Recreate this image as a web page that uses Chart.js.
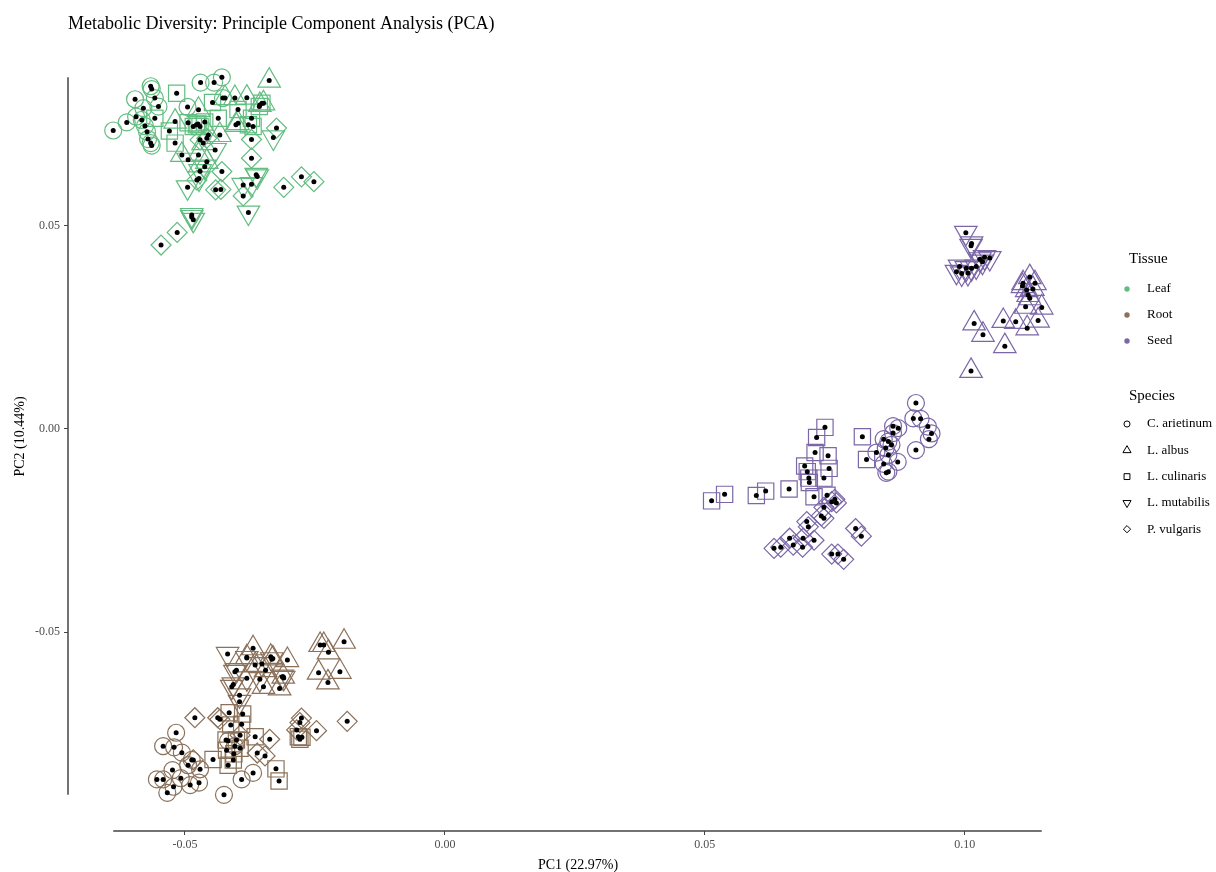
<!DOCTYPE html>
<html lang="en">
<head>
    <meta charset="UTF-8">
    <title>Metabolic Diversity PCA</title>
    <script src="https://cdn.jsdelivr.net/npm/chart.js"></script>
    <style>
        body { margin: 0; background: #fff; }
        canvas { display: block; }
    </style>
</head>
<body>
    <canvas id="pca" width="1216" height="872"></canvas>
</body>
</html>
<script>
    // tick values on both axes
    const xTicks = [-0.05, 0, 0.05, 0.10];
    const yTicks = [-0.05, 0, 0.05];

    const tissues = ['Leaf', 'Root', 'Seed'];
    const tissueColors = ['#62bd80', '#8b715a', '#7b67a8'];
    const species = ['C. arietinum', 'L. albus', 'L. culinaris', 'L. mutabilis', 'P. vulgaris'];

    // PC1, PC2 scores, one array per tissue x species
    const leafArietinum = [[-0.0638,0.0735],[-0.0612,0.0755],[-0.0594,0.0769],[-0.0596,0.0812],[-0.0566,0.0844],[-0.0564,0.0837],[-0.0580,0.0790],[-0.0558,0.0815],[-0.0551,0.0794],[-0.0583,0.0761],[-0.0495,0.0793],[-0.0566,0.0704],[-0.0564,0.0698],[-0.0470,0.0853],[-0.0444,0.0853],[-0.0429,0.0866],[-0.0427,0.0815],[-0.0577,0.0746],[-0.0573,0.0732],[-0.0571,0.0714]];
    const leafAlbus = [[-0.0338,0.0858],[-0.0404,0.0815],[-0.0381,0.0816],[-0.0423,0.0815],[-0.0474,0.0786],[-0.0402,0.0749],[-0.0398,0.0753],[-0.0356,0.0798],[-0.0349,0.0802],[-0.0455,0.0724],[-0.0433,0.0724],[-0.0465,0.0704],[-0.0506,0.0675],[-0.0474,0.0675],[-0.0458,0.0658],[-0.0519,0.0757]];
    const leafCulinaris = [[-0.0516,0.0827],[-0.0558,0.0765],[-0.0530,0.0734],[-0.0519,0.0704],[-0.0484,0.0745],[-0.0478,0.0749],[-0.0471,0.0745],[-0.0475,0.0751],[-0.0447,0.0804],[-0.0436,0.0765],[-0.0398,0.0787],[-0.0372,0.0765],[-0.0352,0.0802],[-0.0378,0.0749],[-0.0369,0.0745],[-0.0357,0.0794],[-0.0494,0.0754],[-0.0462,0.0756]];
    const leafMutabilis = [[-0.0495,0.0595],[-0.0487,0.0527],[-0.0484,0.0515],[-0.0487,0.0522],[-0.0378,0.0533],[-0.0372,0.0603],[-0.0363,0.0626],[-0.0361,0.0622],[-0.0330,0.0718],[-0.0462,0.0646],[-0.0473,0.0617],[-0.0471,0.0635],[-0.0494,0.0663],[-0.0442,0.0687],[-0.0388,0.0601]];
    const leafVulgaris = [[-0.0546,0.0453],[-0.0515,0.0484],[-0.0429,0.0634],[-0.0441,0.0589],[-0.0431,0.0590],[-0.0372,0.0667],[-0.0372,0.0713],[-0.0388,0.0574],[-0.0310,0.0595],[-0.0276,0.0621],[-0.0252,0.0609],[-0.0324,0.0741],[-0.0471,0.0712],[-0.0458,0.0716],[-0.0477,0.0613]];

    const rootArietinum = [[-0.0517,-0.0748],[-0.0542,-0.0781],[-0.0521,-0.0784],[-0.0506,-0.0797],[-0.0487,-0.0815],[-0.0494,-0.0828],[-0.0471,-0.0838],[-0.0524,-0.0840],[-0.0554,-0.0863],[-0.0542,-0.0863],[-0.0508,-0.0860],[-0.0490,-0.0877],[-0.0473,-0.0871],[-0.0522,-0.0881],[-0.0534,-0.0896],[-0.0425,-0.0901],[-0.0391,-0.0863],[-0.0369,-0.0847],[-0.0417,-0.0768],[-0.0404,-0.0781]];
    const rootAlbus = [[-0.0369,-0.0540],[-0.0335,-0.0561],[-0.0331,-0.0565],[-0.0303,-0.0569],[-0.0345,-0.0594],[-0.0311,-0.0610],[-0.0318,-0.0639],[-0.0349,-0.0635],[-0.0365,-0.0581],[-0.0240,-0.0532],[-0.0233,-0.0532],[-0.0224,-0.0550],[-0.0194,-0.0524],[-0.0243,-0.0600],[-0.0202,-0.0598],[-0.0225,-0.0624],[-0.0381,-0.0562]];
    const rootCulinaris = [[-0.0415,-0.0699],[-0.0389,-0.0702],[-0.0412,-0.0729],[-0.0391,-0.0727],[-0.0421,-0.0766],[-0.0401,-0.0766],[-0.0365,-0.0758],[-0.0446,-0.0814],[-0.0417,-0.0828],[-0.0407,-0.0815],[-0.0394,-0.0786],[-0.0325,-0.0837],[-0.0319,-0.0867],[-0.0282,-0.0758],[-0.0279,-0.0764],[-0.0275,-0.0759],[-0.0420,-0.0791],[-0.0406,-0.0800]];
    const rootMutabilis = [[-0.0418,-0.0554],[-0.0401,-0.0594],[-0.0404,-0.0598],[-0.0407,-0.0629],[-0.0410,-0.0635],[-0.0395,-0.0656],[-0.0395,-0.0672],[-0.0381,-0.0614],[-0.0356,-0.0616],[-0.0313,-0.0610],[-0.0310,-0.0613],[-0.0381,-0.0564],[-0.0333,-0.0567],[-0.0352,-0.0579]];
    const rootVulgaris = [[-0.0481,-0.0711],[-0.0437,-0.0711],[-0.0433,-0.0715],[-0.0337,-0.0764],[-0.0361,-0.0798],[-0.0346,-0.0805],[-0.0276,-0.0712],[-0.0279,-0.0723],[-0.0247,-0.0743],[-0.0188,-0.0720],[-0.0484,-0.0815],[-0.0285,-0.0741],[-0.0394,-0.0754]];

    const seedArietinum = [[0.0906,0.0064],[0.0901,0.0026],[0.0915,0.0025],[0.0929,0.0006],[0.0936,-0.0011],[0.0931,-0.0025],[0.0906,-0.0052],[0.0862,0.0007],[0.0872,0.0002],[0.0844,-0.0025],[0.0853,-0.0031],[0.0859,-0.0039],[0.0830,-0.0058],[0.0853,-0.0064],[0.0871,-0.0081],[0.0844,-0.0086],[0.0849,-0.0108],[0.0853,-0.0105],[0.0848,-0.0047],[0.0862,-0.0010]];
    const seedAlbus = [[0.1125,0.0374],[0.1112,0.0359],[0.1135,0.0359],[0.1111,0.0352],[0.1122,0.0330],[0.1125,0.0322],[0.1117,0.0301],[0.1148,0.0299],[0.1141,0.0267],[0.1120,0.0248],[0.1098,0.0264],[0.1074,0.0266],[0.1018,0.0260],[0.1035,0.0232],[0.1077,0.0204],[0.1012,0.0143],[0.1119,0.0342],[0.1131,0.0345]];
    const seedCulinaris = [[0.0513,-0.0177],[0.0538,-0.0161],[0.0599,-0.0164],[0.0617,-0.0153],[0.0662,-0.0148],[0.0731,0.0004],[0.0715,-0.0021],[0.0712,-0.0058],[0.0737,-0.0066],[0.0739,-0.0097],[0.0692,-0.0091],[0.0697,-0.0105],[0.0701,-0.0132],[0.0729,-0.0121],[0.0710,-0.0167],[0.0735,-0.0163],[0.0803,-0.0019],[0.0811,-0.0075],[0.0700,-0.0121]];
    const seedMutabilis = [[0.1002,0.0483],[0.1013,0.0457],[0.1012,0.0451],[0.1038,0.0423],[0.1029,0.0418],[0.1034,0.0412],[0.0984,0.0387],[0.0994,0.0383],[0.1003,0.0396],[0.1013,0.0396],[0.1022,0.0400],[0.0990,0.0400],[0.1006,0.0384],[0.1048,0.0421]];
    const seedVulgaris = [[0.0750,-0.0173],[0.0753,-0.0182],[0.0744,-0.0179],[0.0729,-0.0193],[0.0729,-0.0220],[0.0724,-0.0214],[0.0696,-0.0228],[0.0699,-0.0241],[0.0663,-0.0269],[0.0670,-0.0286],[0.0646,-0.0291],[0.0633,-0.0294],[0.0689,-0.0269],[0.0688,-0.0291],[0.0710,-0.0274],[0.0790,-0.0245],[0.0801,-0.0264],[0.0744,-0.0308],[0.0756,-0.0308],[0.0767,-0.0321]];

    const groups = [
        [leafArietinum, leafAlbus, leafCulinaris, leafMutabilis, leafVulgaris],
        [rootArietinum, rootAlbus, rootCulinaris, rootMutabilis, rootVulgaris],
        [seedArietinum, seedAlbus, seedCulinaris, seedMutabilis, seedVulgaris]
    ];

    // marker per species: circle, triangle, square, down triangle, diamond
    const shapes = [
        { pointStyle: 'circle', radius: 8.5, rotation: 0 },
        { pointStyle: 'triangle', radius: 13, rotation: 0 },
        { pointStyle: 'rect', radius: 11.5, rotation: 0 },
        { pointStyle: 'triangle', radius: 13, rotation: 180 },
        { pointStyle: 'rectRot', radius: 10, rotation: 0 }
    ];

    const serif = "'Liberation Serif', 'DejaVu Serif', serif";

    let datasets = [];
    let allPoints = [];
    groups.forEach(function (row, t) {
        row.forEach(function (pts, s) {
            const data = pts.map(p => ({ x: p[0], y: p[1] }));
            allPoints = allPoints.concat(data);
            datasets.push({
                label: tissues[t] + ' ' + species[s],
                data: data,
                pointStyle: shapes[s].pointStyle,
                pointRadius: shapes[s].radius,
                pointRotation: shapes[s].rotation,
                pointBorderWidth: 1.2,
                pointBorderColor: tissueColors[t],
                pointBackgroundColor: 'rgba(0,0,0,0)',
                order: 1
            });
        });
    });
    // black centre dots on top
    datasets.push({
        label: 'centres',
        data: allPoints,
        pointStyle: 'circle',
        pointRadius: 2.5,
        pointBorderWidth: 0,
        pointBackgroundColor: '#000',
        order: 0
    });

    // range frame: axis lines only span the data
    const rangeFrame = {
        id: 'rangeFrame',
        beforeDatasetsDraw(chart) {
            const ctx = chart.ctx;
            const xs = allPoints.map(p => p.x);
            const ys = allPoints.map(p => p.y);
            const sx = chart.scales.x, sy = chart.scales.y;
            const area = chart.chartArea;
            ctx.save();
            ctx.strokeStyle = '#444';
            ctx.lineWidth = 1.5;
            ctx.beginPath();
            ctx.moveTo(sx.getPixelForValue(Math.min(...xs)), area.bottom);
            ctx.lineTo(sx.getPixelForValue(Math.max(...xs)), area.bottom);
            ctx.moveTo(area.left, sy.getPixelForValue(Math.max(...ys)));
            ctx.lineTo(area.left, sy.getPixelForValue(Math.min(...ys)));
            ctx.stroke();
            ctx.restore();
        }
    };

    const sideLegend = {
        id: 'sideLegend',
        afterDraw(chart) {
            const ctx = chart.ctx;
            const x0 = chart.chartArea.right + 39;
            ctx.save();
            ctx.textBaseline = 'middle';
            ctx.textAlign = 'left';
            ctx.fillStyle = '#000';
            ctx.font = '15px ' + serif;
            ctx.fillText('Tissue', x0 + 2, 259);
            ctx.font = '13px ' + serif;
            tissues.forEach(function (name, i) {
                const y = 289 + i * 26;
                ctx.fillStyle = tissueColors[i];
                ctx.beginPath();
                ctx.arc(x0, y, 2.7, 0, Math.PI * 2);
                ctx.fill();
                ctx.fillStyle = '#000';
                ctx.fillText(name, x0 + 20, y);
            });
            ctx.font = '15px ' + serif;
            ctx.fillText('Species', x0 + 2, 396);
            ctx.font = '13px ' + serif;
            ctx.strokeStyle = '#000';
            species.forEach(function (name, i) {
                const y = 424 + i * 26.3;
                const sh = shapes[i];
                ctx.fillStyle = 'rgba(0,0,0,0)';
                Chart.helpers.drawPoint(ctx, {
                    pointStyle: sh.pointStyle,
                    radius: sh.radius * 0.36,
                    rotation: sh.rotation,
                    borderWidth: 1
                }, x0, y);
                ctx.fillStyle = '#000';
                ctx.fillText(name, x0 + 20, y);
            });
            ctx.restore();
        }
    };

    const tickFont = { family: serif, size: 12 };

    new Chart(document.getElementById('pca'), {
        type: 'scatter',
        data: { datasets: datasets },
        options: {
            responsive: false,
            animation: false,
            layout: { padding: { left: 0, right: 128, top: 0, bottom: 0 } },
            scales: {
                x: {
                    type: 'linear',
                    min: -0.0725,
                    max: 0.1237,
                    afterBuildTicks: s => { s.ticks = xTicks.map(v => ({ value: v })); },
                    afterFit: s => { s.height = 41; },
                    border: { display: false },
                    grid: { drawOnChartArea: false, drawTicks: true, tickLength: 4, color: '#444' },
                    ticks: {
                        color: '#4d4d4d',
                        font: tickFont,
                        padding: 3,
                        maxRotation: 0,
                        callback: v => v.toFixed(2)
                    },
                    title: {
                        display: true,
                        text: 'PC1 (22.97%)',
                        color: '#000',
                        font: { family: serif, size: 14, weight: 'normal', lineHeight: 0.9 },
                        padding: 0
                    }
                },
                y: {
                    type: 'linear',
                    min: -0.0990,
                    max: 0.0953,
                    afterBuildTicks: s => { s.ticks = yTicks.map(v => ({ value: v })); },
                    afterFit: s => { s.width = 68; },
                    border: { display: false },
                    grid: { drawOnChartArea: false, drawTicks: true, tickLength: 4, color: '#444' },
                    ticks: {
                        color: '#4d4d4d',
                        font: tickFont,
                        padding: 4,
                        callback: v => v.toFixed(2)
                    },
                    title: {
                        display: true,
                        text: 'PC2 (10.44%)',
                        color: '#000',
                        font: { family: serif, size: 14, weight: 'normal' },
                        padding: { top: 11.6, bottom: 0 }
                    }
                }
            },
            plugins: {
                legend: { display: false },
                tooltip: { enabled: false },
                title: {
                    display: true,
                    text: 'Metabolic Diversity: Principle Component Analysis (PCA)',
                    align: 'start',
                    fullSize: false,
                    color: '#000',
                    font: { family: serif, size: 18, weight: 'normal', lineHeight: 1.2 },
                    padding: { top: 13, bottom: 7.4 }
                }
            }
        },
        plugins: [rangeFrame, sideLegend]
    });
</script>
